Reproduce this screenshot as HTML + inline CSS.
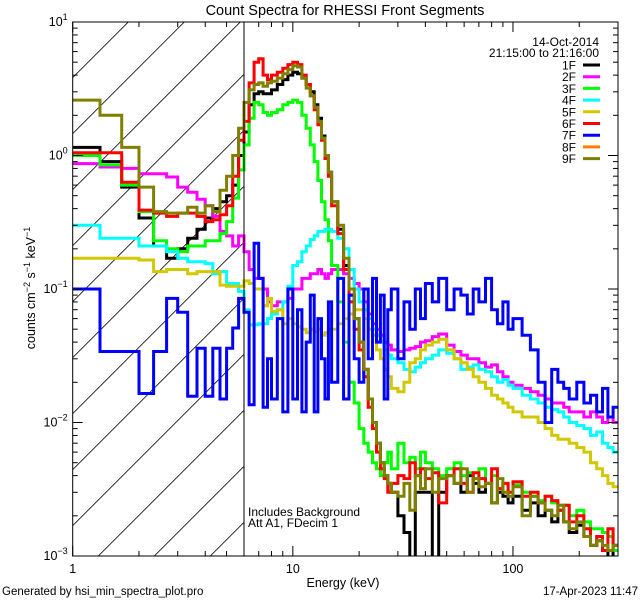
<!DOCTYPE html>
<html><head><meta charset="utf-8">
<style>
html,body{margin:0;padding:0;background:#fff;}
svg text{font-family:"Liberation Sans",sans-serif;fill:#000;}
</style></head>
<body>
<svg id="chart" xmlns="http://www.w3.org/2000/svg" width="640" height="600" viewBox="0 0 640 600">
<rect x="0" y="0" width="640" height="600" fill="#fff"/>
<text x="345" y="15" font-size="14.5" text-anchor="middle">Count Spectra for RHESSI Front Segments</text>
<g id="hatch"></g>
<g id="series"></g>
<g id="axes"></g>
<text x="599" y="46" font-size="12" text-anchor="end">14-Oct-2014</text>
<text x="599" y="57" font-size="12" text-anchor="end">21:15:00 to 21:16:00</text>
<g id="legend"></g>
<text x="248" y="516" font-size="12">Includes Background</text>
<text x="248" y="527" font-size="12">Att A1, FDecim 1</text>
<text x="343" y="587" font-size="12.5" text-anchor="middle">Energy (keV)</text>
<text transform="translate(35,288) rotate(-90)" font-size="12.5" text-anchor="middle">counts cm<tspan dy="-5" font-size="9">−2</tspan><tspan dy="5"> s</tspan><tspan dy="-5" font-size="9">−1</tspan><tspan dy="5"> keV</tspan><tspan dy="-5" font-size="9">−1</tspan></text>
<text x="2" y="595" font-size="11.5">Generated by hsi_min_spectra_plot.pro</text>
<text x="638" y="595" font-size="11.5" text-anchor="end">17-Apr-2023 11:47</text>
</svg>
<script>
// ---- data ----
const energyEdges = [1,1.33,1.67,2,2.33,2.67,3,3.33,3.67,4,4.33,4.67,5,5.33,5.67,6,
 6.33,6.67,7,7.33,7.67,8,8.5,9,9.5,10,10.5,11,11.5,12,12.5,13,13.5,14,14.5,15,16,17,18,19,20,
 21,22,23,24,25,26,27,28,30,32,34,36,38,40,43,46,50,54,58,62,66,70,75,80,85,90,95,100,
 110,120,130,140,150,160,170,180,195,210,225,240,255,270,285,300];
const seriesNames = ["1F","2F","3F","4F","5F","6F","7F","8F","9F"];
const seriesColors = ["#000000","#ff00ff","#00ff00","#00ffff","#d2c800","#ff0000","#0000ff","#ff8000","#808000"];
const xTickLabels = ["1","10","100"];
const yTickExponents = ["−3","−2","−1","0","1"];
const attenuatorEdge = 6;

const s1F = [1.15,0.9,0.58,0.34,0.21,0.17,0.2,0.24,0.28,0.34,0.4,0.45,0.5,0.6,1.0,
 1.5,2.4,2.9,3.0,2.9,2.9,3.1,3.4,3.7,4.0,4.2,4.1,3.8,3.4,3.0,2.4,1.9,1.4,1.0,0.75,0.45,0.28,0.15,0.09,0.06,
 0.04,0.025,0.015,0.01,0.007,0.005,0.004,0.0035,0.003,0.002,0.0015,0.0008,0.003,0.003,0.003,0.0008,0.003,0.004,0.0035,0.003,0.004,0.0035,0.003,0.0035,0.0025,0.003,0.0028,0.0025,
 0.0028,0.0022,0.0025,0.002,0.0022,0.0018,0.0022,0.0018,0.0015,0.0017,0.0014,0.0012,0.0013,0.0011,0.0009,0.0012];
const s2F = [0.87,0.82,0.8,0.73,0.73,0.69,0.58,0.53,0.47,0.42,0.35,0.27,0.25,0.21,0.25,
 0.19,0.14,0.12,0.12,0.1,0.08,0.075,0.08,0.08,0.085,0.1,0.1,0.12,0.12,0.13,0.13,0.14,0.13,0.12,0.13,0.14,0.14,0.13,0.12,0.11,
 0.1,0.08,0.065,0.055,0.05,0.045,0.04,0.038,0.035,0.034,0.035,0.036,0.037,0.04,0.041,0.044,0.046,0.038,0.034,0.032,0.03,0.03,0.028,0.026,0.027,0.024,0.022,0.02,
 0.019,0.018,0.017,0.016,0.015,0.014,0.014,0.013,0.012,0.012,0.011,0.012,0.011,0.01,0.011,0.01];
const s3F = [1.0,0.85,0.6,0.38,0.23,0.2,0.19,0.21,0.21,0.23,0.23,0.26,0.32,0.48,0.78,
 1.2,1.9,2.5,2.4,2.1,2.0,2.1,2.2,2.4,2.5,2.6,2.5,2.0,1.6,1.2,0.9,0.65,0.45,0.33,0.23,0.15,0.08,0.04,0.02,0.014,
 0.009,0.007,0.006,0.005,0.0045,0.004,0.005,0.006,0.0045,0.007,0.005,0.0055,0.0045,0.006,0.005,0.0045,0.004,0.0045,0.005,0.004,0.0042,0.0038,0.0045,0.0035,0.004,0.0032,0.0035,0.003,
 0.0034,0.003,0.0028,0.0026,0.0028,0.0025,0.0024,0.0024,0.002,0.0022,0.0018,0.0016,0.0016,0.0015,0.0014,0.0011];
const s4F = [0.3,0.24,0.24,0.21,0.21,0.19,0.17,0.16,0.16,0.155,0.13,0.135,0.11,0.11,0.096,
 0.07,0.054,0.054,0.055,0.055,0.06,0.065,0.07,0.08,0.105,0.15,0.16,0.19,0.21,0.235,0.25,0.27,0.27,0.28,0.28,0.27,0.24,0.2,0.14,0.1,
 0.08,0.07,0.06,0.05,0.045,0.04,0.035,0.032,0.03,0.028,0.025,0.024,0.026,0.028,0.03,0.032,0.035,0.033,0.03,0.025,0.026,0.027,0.025,0.024,0.022,0.02,0.021,0.019,
 0.018,0.016,0.015,0.014,0.013,0.0125,0.012,0.011,0.01,0.0095,0.009,0.008,0.0085,0.007,0.0065,0.006];
const s5F = [0.17,0.17,0.17,0.165,0.135,0.14,0.14,0.13,0.135,0.135,0.135,0.107,0.105,0.105,0.105,
 0.115,0.11,0.1,0.1,0.075,0.085,0.068,0.07,0.055,0.06,0.055,0.052,0.05,0.047,0.05,0.048,0.05,0.045,0.047,0.05,0.05,0.055,0.06,0.065,0.07,
 0.07,0.06,0.05,0.045,0.035,0.03,0.025,0.022,0.018,0.017,0.02,0.028,0.03,0.035,0.038,0.04,0.042,0.035,0.03,0.028,0.025,0.022,0.02,0.018,0.016,0.015,0.014,0.013,
 0.012,0.011,0.011,0.01,0.009,0.008,0.0075,0.0075,0.007,0.0065,0.006,0.005,0.0045,0.004,0.0035,0.0033];
const s6F = [1.05,1.05,0.63,0.39,0.37,0.35,0.37,0.37,0.35,0.32,0.33,0.36,0.42,0.7,1.3,
 1.8,3.5,5.0,5.3,4.0,3.7,4.0,4.2,4.5,4.8,5.0,4.8,4.0,3.4,2.8,2.2,1.7,1.3,0.95,0.7,0.42,0.26,0.14,0.08,0.05,
 0.035,0.022,0.013,0.009,0.006,0.0045,0.0038,0.003,0.0035,0.004,0.0038,0.005,0.004,0.0045,0.0038,0.0042,0.0025,0.004,0.0045,0.0035,0.003,0.0042,0.0038,0.0035,0.0045,0.0032,0.0035,0.003,
 0.0036,0.0028,0.003,0.0025,0.0028,0.0026,0.0022,0.0024,0.0018,0.002,0.0016,0.0012,0.0014,0.0011,0.0016,0.0012];
const s7F = [0.1,0.034,0.034,0.0165,0.034,0.085,0.067,0.0157,0.036,0.0157,0.036,0.015,0.036,0.051,0.085,
 0.067,0.0136,0.22,0.12,0.013,0.03,0.015,0.06,0.012,0.1,0.015,0.07,0.012,0.04,0.09,0.012,0.06,0.03,0.015,0.08,0.02,0.12,0.015,0.09,0.03,
 0.02,0.1,0.03,0.12,0.04,0.09,0.015,0.07,0.1,0.03,0.08,0.05,0.1,0.06,0.11,0.08,0.12,0.07,0.1,0.09,0.065,0.1,0.08,0.12,0.07,0.055,0.08,0.05,
 0.06,0.045,0.035,0.02,0.01,0.025,0.02,0.018,0.015,0.02,0.014,0.016,0.012,0.018,0.011,0.013];
const s8F = [];
const s9F = [2.6,2.0,1.15,0.58,0.38,0.37,0.37,0.41,0.37,0.42,0.38,0.55,0.7,1.0,1.6,
 2.5,3.1,3.4,3.5,3.3,3.5,3.6,3.8,4.1,4.4,4.7,4.6,3.8,3.2,2.8,2.3,1.8,1.35,1.0,0.75,0.45,0.3,0.17,0.1,0.06,
 0.04,0.025,0.015,0.01,0.007,0.005,0.004,0.0035,0.003,0.0028,0.0035,0.0022,0.004,0.0032,0.0045,0.003,0.0038,0.004,0.0035,0.0045,0.003,0.0038,0.0033,0.0035,0.0025,0.0038,0.003,0.0028,
 0.0033,0.002,0.0028,0.0025,0.0022,0.002,0.0024,0.0018,0.0016,0.0018,0.0014,0.0012,0.0013,0.0012,0.0011,0.0012];
const seriesData = [s1F,s2F,s3F,s4F,s5F,s6F,s7F,s8F,s9F];

// ---- axes ----
const PL=72.7, PR=618, PT=22, PB=556;
const xMin=1, xMax=300, yMin=-3, yMax=1;
function xs(e){return PL+(Math.log10(e)-Math.log10(xMin))/(Math.log10(xMax)-Math.log10(xMin))*(PR-PL);}
function ys(v){return PB-(Math.log10(v)-yMin)/(yMax-yMin)*(PB-PT);}
const NS="http://www.w3.org/2000/svg";
function mk(tag,attrs,parent){const el=document.createElementNS(NS,tag);for(const k in attrs)el.setAttribute(k,attrs[k]);parent.appendChild(el);return el;}

const svg=document.getElementById('chart');
const defs=mk('defs',{},svg);
const cp=mk('clipPath',{id:'plotclip'},defs);
mk('rect',{x:PL,y:PT,width:PR-PL,height:PB-PT},cp);
const hc=mk('clipPath',{id:'hatchclip'},defs);
mk('rect',{x:PL,y:PT,width:xs(attenuatorEdge)-PL,height:PB-PT},hc);

// hatching
const hatch=document.getElementById('hatch');
hatch.setAttribute('clip-path','url(#hatchclip)');
for(let x0=PL+25.6-56*10;x0<PR;x0+=56){
  const l=mk('line',{x1:x0,y1:PB,x2:x0+(PB-PT),y2:PT,stroke:'#000','stroke-width':0.8},hatch);
  
  
}
const vline=mk('line',{x1:xs(attenuatorEdge),y1:PT,x2:xs(attenuatorEdge),y2:PB,stroke:'#000','stroke-width':1},hatch.parentNode);



// series
const sg=document.getElementById('series');
sg.setAttribute('clip-path','url(#plotclip)');
seriesData.forEach((vals,si)=>{
  if(!vals.length)return;
  let d='';
  vals.forEach((v,i)=>{
    const x1=xs(energyEdges[i]).toFixed(1), x2=xs(energyEdges[i+1]).toFixed(1), y=ys(v).toFixed(1);
    d+=(i===0?'M':'L')+x1+','+y+'L'+x2+','+y;
  });
  const p=mk('path',{d:d,fill:'none',stroke:seriesColors[si],'stroke-width':3,'stroke-linejoin':'miter'},sg);
  
  
});

// axes box & ticks
const ax=document.getElementById('axes');
const box=mk('rect',{x:PL,y:PT,width:PR-PL,height:PB-PT,fill:'none',stroke:'#000','stroke-width':1},ax);


for(let dec=0;dec<3;dec++){
  for(let m=1;m<10;m++){
    const e=Math.pow(10,dec)*m; if(e>xMax)break;
    const x=xs(e), len=(m===1)?10:5;
    mk('line',{x1:x,y1:PB,x2:x,y2:PB-len,stroke:'#000','stroke-width':1},ax);
    mk('line',{x1:x,y1:PT,x2:x,y2:PT+len,stroke:'#000','stroke-width':1},ax);
  }
}
xTickLabels.forEach((lab,i)=>{
  const t=mk('text',{x:xs(Math.pow(10,i)),y:PB+17,'font-size':12.5,'text-anchor':'middle'},ax);
  t.textContent=lab;
  
  
});
for(let dec=yMin;dec<yMax;dec++){
  for(let m=1;m<10;m++){
    const v=Math.pow(10,dec)*m, y=ys(v), len=(m===1)?10:5;
    mk('line',{x1:PL,y1:y,x2:PL+len,y2:y,stroke:'#000','stroke-width':1},ax);
    mk('line',{x1:PR,y1:y,x2:PR-len,y2:y,stroke:'#000','stroke-width':1},ax);
  }
}
yTickExponents.forEach((ex,i)=>{
  const y=ys(Math.pow(10,yMin+i));
  const t=mk('text',{x:PL-5,y:y+4,'font-size':12.5,'text-anchor':'end'},ax);
  t.innerHTML='10<tspan dy="-6" font-size="9">'+ex+'</tspan>';
  
  
});

// legend
const lg=document.getElementById('legend');
seriesNames.forEach((n,i)=>{
  const g=mk('g',{},lg);
  
  
  const y=65+i*11.7;
  const t=mk('text',{x:576,y:y+4.5,'font-size':12,'text-anchor':'end'},g);
  t.textContent=n;
  mk('line',{x1:583,y1:y,x2:600,y2:y,stroke:seriesColors[i],'stroke-width':3},g);
});
</script>
</body></html>
